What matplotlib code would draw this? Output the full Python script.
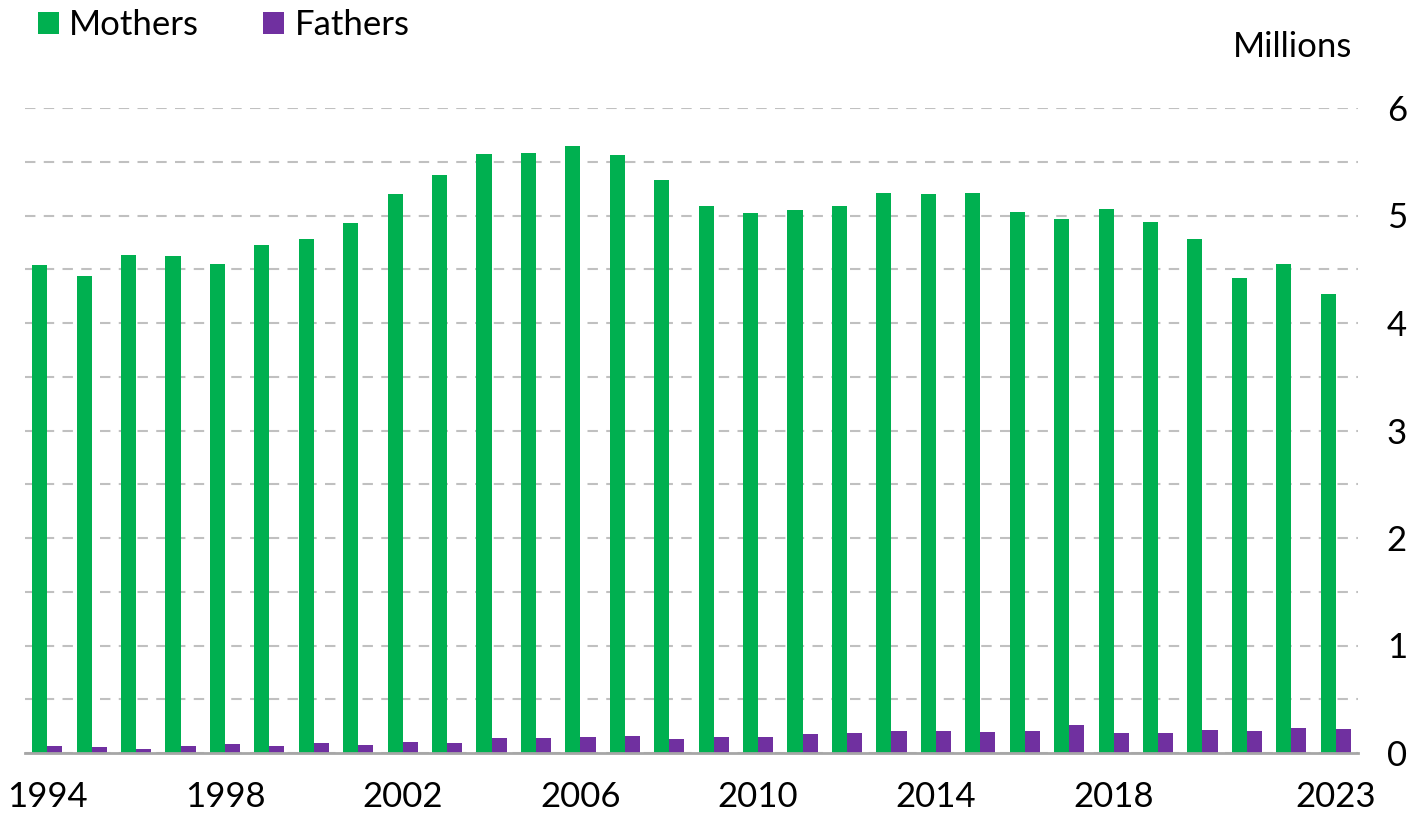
import matplotlib
matplotlib.use("Agg")
import matplotlib.pyplot as plt
import numpy as np
from matplotlib.patches import Patch

years = list(range(1994, 2024))
mothers = [4.54, 4.44, 4.63, 4.62, 4.55, 4.73, 4.78, 4.93, 5.20, 5.38,
           5.57, 5.58, 5.65, 5.56, 5.33, 5.09, 5.02, 5.05, 5.09, 5.21,
           5.20, 5.21, 5.03, 4.97, 5.06, 4.94, 4.78, 4.42, 4.55, 4.27]
fathers = [0.068, 0.056, 0.040, 0.065, 0.084, 0.065, 0.090, 0.075, 0.100, 0.093,
           0.140, 0.137, 0.152, 0.158, 0.134, 0.152, 0.146, 0.174, 0.183, 0.208,
           0.202, 0.192, 0.202, 0.264, 0.183, 0.183, 0.214, 0.202, 0.230, 0.220]
tick_years = [1994, 1998, 2002, 2006, 2010, 2014, 2018, 2023]
series_names = ["Mothers", "Fathers"]
colors = ["#00B050", "#7030A0"]

plt.rcParams['font.family'] = ['Lato', 'DejaVu Sans']

fig = plt.figure(figsize=(14.15, 8.17), dpi=100)
W, H = 1415, 817
left, right, top, bottom = 25, 1358, 108, 753
ax = fig.add_axes([left / W, 1 - bottom / H, (right - left) / W, (bottom - top) / H])

x = np.arange(len(years))
bw = 0.34
ax.bar(x - bw / 2, mothers, width=bw, color=colors[0], zorder=3, linewidth=0)
ax.bar(x + bw / 2, fathers, width=bw, color=colors[1], zorder=3, linewidth=0)

ax.set_xlim(-0.5, len(years) - 0.5)
ax.set_ylim(0, 6)
yt = np.arange(0, 6.01, 0.5)
ax.set_yticks(yt)
ax.set_yticklabels([str(int(v)) if v == int(v) else "" for v in yt])
ax.yaxis.tick_right()
ax.tick_params(axis='y', length=0, pad=28, labelsize=25)
for lab in ax.get_yticklabels():
    lab.set_horizontalalignment('center')

ax.set_xticks([years.index(y) for y in tick_years])
ax.set_xticklabels([str(y) for y in tick_years])
ax.tick_params(axis='x', length=0, pad=20, labelsize=25)

ax.grid(axis='y', linestyle=(0, (5, 4)), color='#c0c0c0', linewidth=1.5, zorder=0)
for s in ['top', 'left', 'right']:
    ax.spines[s].set_visible(False)
ax.spines['bottom'].set_color('#a6a6a6')
ax.spines['bottom'].set_linewidth(2)
ax.spines['bottom'].set_zorder(4)

fig.text(1352 / W, 1 - 47 / H, "Millions", ha='right', va='center', fontsize=25)

handles = [Patch(facecolor=c, edgecolor='none', label=n) for c, n in zip(colors, series_names)]
fig.legend(handles=handles, loc='upper left', bbox_to_anchor=(24 / W, 1 + 5 / H), ncol=2,
           frameon=False, fontsize=25, handlelength=0.6, handleheight=0.6,
           handletextpad=0.3, columnspacing=1.85, borderaxespad=0)

fig.savefig("out.png", dpi=100)
